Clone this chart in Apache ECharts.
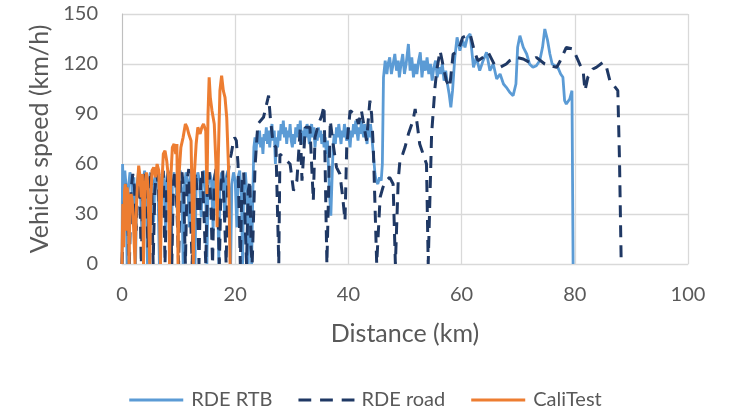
<!DOCTYPE html>
<html>
<head>
<meta charset="utf-8">
<script src="https://cdn.jsdelivr.net/npm/echarts@6/dist/echarts.min.js"></script>
<style>
  html, body { margin: 0; padding: 0; background: #fff; }
  #chart { width: 731px; height: 409px; }
</style>
</head>
<body>
<div id="chart"></div>
<script>
// [distance km, speed km/h]
var rtbData = [
  [0,0],[0.1,60],[0.3,40],[0.5,56],[0.7,48],[0.9,0],[1.1,44],[1.4,55],[1.7,50],[1.9,30],
  [2.1,52],[2.4,0],[2.6,46],[2.9,55],[3.2,48],[3.5,20],[3.7,50],[4.0,56],[4.3,44],[4.5,0],
  [4.7,48],[5.0,55],[5.3,52],[5.6,25],[5.8,50],[6.1,56],[6.4,40],[6.6,0],[6.8,46],[7.1,55],
  [7.4,50],[7.7,20],[7.9,52],[8.2,56],[8.5,42],[8.7,0],[8.9,50],[9.2,55],[9.5,48],[9.8,30],
  [10.0,54],[10.3,56],[10.6,40],[10.8,0],[11.0,46],[11.3,55],[11.6,50],[11.9,22],[12.1,52],[12.4,56],
  [12.7,44],[12.9,0],[13.1,48],[13.4,55],[13.7,50],[14.0,28],[14.2,52],[14.5,56],[14.8,40],[15.0,0],
  [15.2,46],[15.5,55],[15.8,50],[16.1,20],[16.3,52],[16.6,56],[16.9,42],[17.1,0],[17.3,48],[17.6,55],
  [17.9,50],[18.2,26],[18.4,52],[18.7,56],[19.0,40],[19.2,0],[19.4,48],[19.7,55],[20.0,50],[20.3,22],
  [20.5,52],[20.8,56],[21.1,40],[21.3,0],[21.5,48],[21.8,55],[22.1,40],[22.3,0],[22.5,44],[22.7,30],
  [22.9,0],
  [23.1,40],[23.3,70],[23.5,76],[23.7,68],[23.9,78],[24.1,72],[24.3,80],[24.5,70],[24.7,76],[24.9,66],
  [25.1,78],[25.3,74],[25.5,82],[25.7,72],[25.9,80],[26.1,70],[26.3,78],[26.5,84],[26.7,74],[26.9,80],
  [27.1,60],[27.3,76],[27.5,70],[27.7,80],[27.9,74],[28.1,84],[28.3,78],[28.5,86],[28.7,76],[28.9,82],
  [29.1,72],[29.3,80],[29.5,76],[29.7,84],[29.9,74],[30.1,70],[30.3,78],[30.5,72],[30.7,82],[30.9,76],
  [31.1,84],[31.3,78],[31.5,86],[31.7,74],[31.9,80],[32.1,72],[32.3,82],[32.5,76],[32.7,84],[32.9,78],
  [33.1,72],[33.3,80],[33.5,84],[33.7,76],[33.9,82],[34.1,70],[34.3,78],[34.5,74],[34.7,82],[34.9,76],
  [35.1,80],[35.3,72],[35.5,78],[35.7,70],[35.9,76],[36.1,66],[36.3,74],[36.5,56],[36.7,40],[36.9,29],
  [37.1,50],[37.3,70],[37.5,78],[37.7,72],[37.9,82],[38.1,76],[38.3,84],[38.5,78],[38.7,72],[38.9,80],
  [39.1,76],[39.3,84],[39.5,78],[39.7,74],[39.9,82],[40.1,76],[40.3,70],[40.5,80],[40.7,76],[40.9,84],
  [41.1,78],[41.3,86],[41.5,80],[41.7,74],[41.9,82],[42.1,78],[42.3,86],[42.5,80],[42.7,76],[42.9,84],
  [43.1,78],[43.3,72],[43.5,82],[43.7,76],[43.9,84],[44.1,78],[44.3,70],[44.5,62],[44.7,54],[44.9,50],
  [45.2,48],[45.5,52],[45.8,50],[46.0,60],[46.2,112],[46.5,122],[46.8,114],[47.0,120],[47.3,124],[47.6,114],
  [47.9,120],[48.2,126],[48.5,116],[48.8,122],[49.0,112],[49.3,120],[49.6,126],[49.9,114],[50.2,120],[50.6,132],
  [50.9,116],[51.2,124],[51.5,112],[51.8,120],[52.1,114],[52.4,122],[52.7,127],[53.0,112],[53.3,122],[53.6,116],
  [53.9,124],[54.2,114],[54.5,120],[54.8,110],[55.1,118],[55.4,122],[55.7,112],[56.0,118],[56.3,114],[56.6,120],
  [56.9,110],[57.2,116],[57.5,108],[57.8,102],[58.1,94],[58.4,104],[58.8,124],[59.2,136],[59.7,128],[60.2,134],
  [60.6,130],[61.0,136],[61.5,138],[61.8,128],[62.1,118],[62.6,124],[63.2,116],[63.8,122],[64.4,127],[65.0,116],
  [65.6,120],[66.2,111],[66.8,114],[67.4,108],[67.9,106],[68.5,103],[69.1,101],[69.6,108],[69.9,130],[70.3,137],
  [70.9,130],[71.5,126],[72.0,120],[72.6,118],[73.2,119],[73.8,122],[74.3,130],[74.7,141],[75.2,134],[75.6,126],
  [76.0,120],[77.0,118],[77.5,114],[77.9,112],[78.2,98],[78.5,96],[79.1,99],[79.5,104],[79.7,0]
];

var roadData = [
  [0,0],[0.3,30],[0.6,48],[0.9,36],[1.3,0],[1.6,44],[1.9,54],[2.2,46],[2.5,20],[2.8,50],
  [3.1,55],[3.4,0],[3.7,46],[4.0,54],[4.3,40],[4.6,10],[4.9,50],[5.2,56],[5.5,0],[5.8,44],
  [6.1,55],[6.4,48],[6.7,25],[7.0,52],[7.3,56],[7.6,0],[7.9,46],[8.2,55],[8.5,40],[8.8,0],
  [9.1,50],[9.4,56],[9.7,34],[10.0,0],[10.3,48],[10.6,55],[10.9,44],[11.2,0],[11.5,50],[11.8,57],
  [12.1,30],[12.4,0],[12.7,46],[13.0,55],[13.3,42],[13.6,0],[13.9,50],[14.2,56],[14.5,28],[14.8,0],
  [15.1,48],[15.4,55],[15.7,36],[16.0,0],[16.3,50],[16.6,57],[16.9,40],[17.2,0],[17.5,48],[17.8,56],
  [18.1,30],[18.4,0],[18.7,52],[19.0,62],[19.3,66],[19.6,72],[19.9,76],[20.2,74],[20.5,60],[20.7,30],
  [20.9,0],[21.2,50],[21.5,55],[21.8,20],[22.0,0],[22.3,44],[22.6,50],[22.8,10],[23.0,0],
  [23.5,58],[24.0,84],[25.0,88],[25.9,101],[26.2,88],[26.7,72],[27.2,70],[27.7,0],
  [27.9,66],[28.5,64],[29.1,62],[29.7,60],[30.3,44],[30.9,50],[31.5,82],[31.8,50],[32.4,82],[33.2,82],
  [33.8,38],[34.1,76],[34.7,84],[35.3,89],[35.7,95],[36.2,0],[36.8,86],[37.3,72],[37.9,58],[38.5,54],
  [39.0,40],[39.4,26],[39.7,70],[40.3,92],[41.2,90],[41.8,84],[42.3,92],[43.2,74],[43.8,98],[44.1,90],
  [44.4,70],[45.0,0],[45.6,40],[46.1,46],[46.7,50],[47.3,52],[47.9,48],[48.3,0],[48.8,50],[49.1,62],
  [49.6,66],[50.0,70],[50.6,78],[51.4,86],[51.8,93],[52.3,80],[52.6,72],[53.2,66],[53.8,60],[54.1,0],
  [54.7,78],[55.3,106],[55.6,116],[56.2,128],[56.8,118],[57.3,110],[57.9,106],[58.5,126],[59.1,127],[59.7,131],
  [60.2,136],[60.9,137],[61.5,138],[61.8,134],[62.3,127],[62.9,122],[63.8,124],[64.7,127],[65.0,126],[65.9,119],
  [66.8,118],[67.9,120],[68.5,122],[69.7,124],[70.9,123],[72.0,121],[73.2,124],[74.7,120],[75.6,119],[76.8,118],
  [77.3,121],[78.5,130],[79.7,129],[80.6,122],[81.5,115],[81.8,104],[82.3,112],[83.2,117],[83.8,118],[85.0,121],
  [85.6,118],[86.2,110],[86.7,108],[87.6,104],[87.9,62],[88.2,0]
];

var caliData = [
  [0,0],[0.15,36],[0.3,10],[0.45,44],[0.6,48],[0.75,20],[0.9,46],[1.1,40],[1.25,0],[1.4,35],
  [1.6,42],[1.8,38],[2.0,26],[2.3,0],[2.5,30],[2.7,46],[2.95,59],[3.2,52],[3.4,40],[3.6,54],
  [3.8,0],[4.0,44],[4.3,55],[4.5,50],[4.7,30],[4.9,0],[5.1,40],[5.3,56],[5.6,58],[5.9,52],
  [6.2,60],[6.5,56],[6.8,0],[7.0,45],[7.3,66],[7.6,68],[7.9,62],[8.2,52],[8.4,0],[8.6,50],
  [8.9,70],[9.2,72],[9.5,66],[9.7,72],[9.9,0],[10.1,55],[10.4,70],[10.8,76],[11.2,84],[11.5,82],
  [11.8,78],[12.2,74],[12.6,0],[12.8,55],[13.1,72],[13.4,82],[13.8,78],[14.1,82],[14.4,84],[14.8,80],
  [15.0,42],[15.2,90],[15.4,112],[15.6,100],[15.9,92],[16.3,84],[16.6,60],[16.8,22],[17.0,62],[17.3,104],
  [17.6,113],[17.9,104],[18.2,100],[18.5,88],[18.8,60],[19.1,0]
];

var seriesNames = ['RDE RTB', 'RDE road', 'CaliTest'];
var seriesColors = ['#5b9bd5', '#1f3864', '#ed7d31'];
var xTicks = { min: 0, max: 100, interval: 20 };
var yTicks = { min: 0, max: 150, interval: 30 };

var font = 'Lato, "Open Sans", sans-serif';
var solidIcon = 'path://M0,0H54V3H0Z';
var dashIcon = 'path://M0,0H13V3H0Z M22,0H35V3H22Z M44,0H57V3H44Z';

var chart = echarts.init(document.getElementById('chart'));
chart.setOption({
  animation: false,
  textStyle: { fontFamily: font },
  grid: { left: 122, right: 43, top: 14, bottom: 145 },
  xAxis: {
    type: 'value',
    min: xTicks.min, max: xTicks.max, interval: xTicks.interval,
    name: 'Distance (km)', nameLocation: 'middle', nameGap: 57,
    nameTextStyle: { color: '#595959', fontSize: 25, fontFamily: font },
    axisLine: { show: true, lineStyle: { color: '#d9d9d9', width: 1 } },
    axisTick: { show: false },
    axisLabel: { color: '#595959', fontSize: 20, margin: 21, fontFamily: font },
    splitLine: { show: true, lineStyle: { color: '#d9d9d9', width: 1.3 } }
  },
  yAxis: {
    type: 'value',
    min: yTicks.min, max: yTicks.max, interval: yTicks.interval,
    name: 'Vehicle speed (km/h)', nameLocation: 'middle', nameGap: 70,
    nameTextStyle: { color: '#595959', fontSize: 25, fontFamily: font },
    axisLine: { show: true, lineStyle: { color: '#bfbfbf', width: 1 } },
    axisTick: { show: false },
    axisLabel: { color: '#595959', fontSize: 20, margin: 24, fontFamily: font },
    splitLine: { show: true, lineStyle: { color: '#d9d9d9', width: 1.3 } }
  },
  legend: {
    top: 385, left: 'center',
    itemWidth: 56, itemHeight: 3, itemGap: 26,
    textStyle: { color: '#595959', fontSize: 20, fontFamily: font, padding: [0, 0, 0, 2] },
    data: [
      { name: seriesNames[0], icon: solidIcon },
      { name: seriesNames[1], icon: dashIcon },
      { name: seriesNames[2], icon: solidIcon }
    ]
  },
  series: [
    { name: seriesNames[0], type: 'line', data: rtbData, symbol: 'none', z: 2,
      lineStyle: { color: seriesColors[0], width: 2.8 }, itemStyle: { color: seriesColors[0] } },
    { name: seriesNames[1], type: 'line', data: roadData, symbol: 'none', z: 3,
      lineStyle: { color: seriesColors[1], width: 3, type: [12, 8] }, itemStyle: { color: seriesColors[1] } },
    { name: seriesNames[2], type: 'line', data: caliData, symbol: 'none', z: 4,
      lineStyle: { color: seriesColors[2], width: 3 }, itemStyle: { color: seriesColors[2] } }
  ]
});
</script>
</body>
</html>
